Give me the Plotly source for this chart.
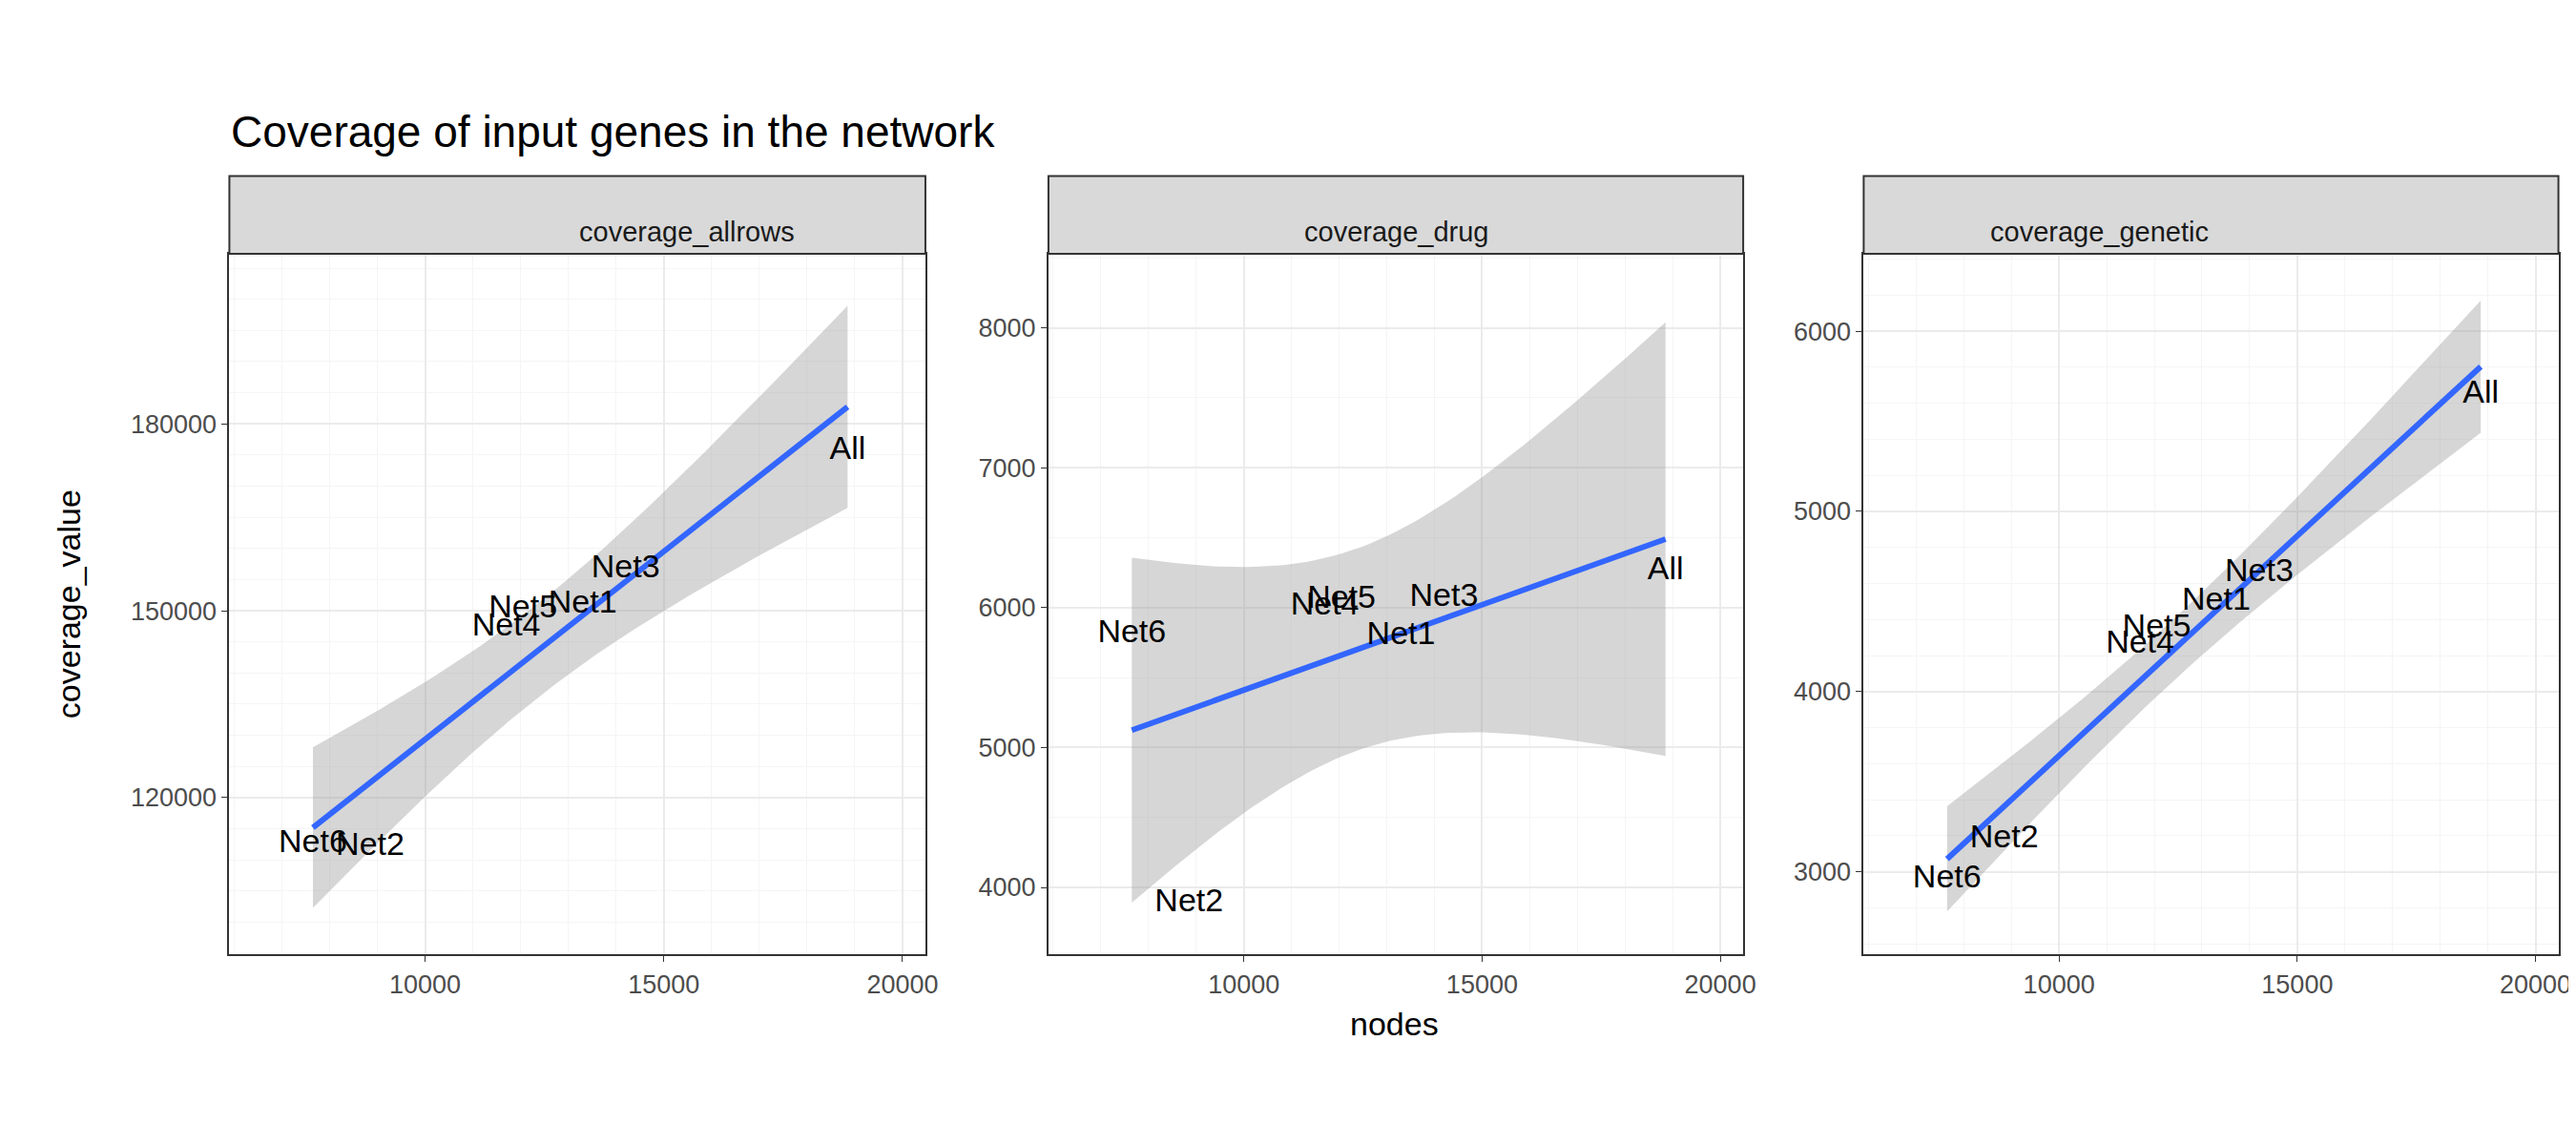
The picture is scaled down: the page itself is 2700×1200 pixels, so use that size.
import numpy as np
import plotly.graph_objects as go

networks = ["Net1", "Net2", "Net3", "Net4", "Net5", "Net6", "All"]
nodes = [13300, 8850, 14200, 11700, 12050, 7650, 18850]
coverage_allrows = [151000, 112100, 156600, 147300, 150300, 112600, 175700]
coverage_drug = [5800, 3890, 6070, 6010, 6060, 5810, 6260]
coverage_genetic = [4500, 3180, 4660, 4260, 4350, 2960, 5650]

facets = ["coverage_allrows", "coverage_drug", "coverage_genetic"]
values = [coverage_allrows, coverage_drug, coverage_genetic]
y_ranges = [[94800, 207300], [3520, 8530], [2540, 6430]]
y_ticks = [[120000, 150000, 180000], [4000, 5000, 6000, 7000, 8000], [3000, 4000, 5000, 6000]]
x_domains = [[0.0865, 0.358], [0.406, 0.677], [0.724, 0.995]]
y_domain = [0.173, 0.785]

fig = go.Figure()
x = np.array(nodes, float)
n = len(x)
xs = np.linspace(x.min(), x.max(), 80)
t = 2.5706  # t quantile 0.975, df=5

for i, (name, vals) in enumerate(zip(facets, values)):
    ax = "" if i == 0 else str(i + 1)
    y = np.array(vals, float)
    b, a = np.polyfit(x, y, 1)
    res = y - (a + b * x)
    s = np.sqrt((res ** 2).sum() / (n - 2))
    se = s * np.sqrt(1 / n + (xs - x.mean()) ** 2 / ((x - x.mean()) ** 2).sum())
    fit = a + b * xs
    fig.add_trace(go.Scatter(x=np.concatenate([xs, xs[::-1]]),
                             y=np.concatenate([fit + t * se, (fit - t * se)[::-1]]),
                             fill="toself", fillcolor="rgba(153,153,153,0.4)",
                             line=dict(width=0), hoverinfo="skip", showlegend=False,
                             xaxis="x" + ax, yaxis="y" + ax))
    fig.add_trace(go.Scatter(x=xs, y=fit, mode="lines", line=dict(color="#3366FF", width=6),
                             showlegend=False, xaxis="x" + ax, yaxis="y" + ax))
    fig.add_trace(go.Scatter(x=nodes, y=vals, mode="text", text=networks,
                             textfont=dict(size=34, color="black", family="Liberation Sans"),
                             showlegend=False, xaxis="x" + ax, yaxis="y" + ax))
    axis_common = dict(showline=True, linecolor="#333333", linewidth=2, mirror=True,
                       gridcolor="#EBEBEB", gridwidth=2, zeroline=False, ticks="outside",
                       tickcolor="#333333", ticklen=6, tickformat="d",
                       tickfont=dict(size=27, color="#4D4D4D"),
                       minor=dict(showgrid=True, gridcolor="#F5F5F5", gridwidth=1))
    fig.layout["xaxis" + ax] = dict(axis_common, domain=x_domains[i], anchor="y" + ax,
                                    range=[5900, 20480], tickvals=[10000, 15000, 20000])
    fig.layout["yaxis" + ax] = dict(axis_common, domain=y_domain, anchor="x" + ax,
                                    range=y_ranges[i], tickvals=y_ticks[i])
    fig.add_shape(type="rect", xref="paper", yref="paper", x0=x_domains[i][0], x1=x_domains[i][1],
                  y0=y_domain[1], y1=0.853, fillcolor="#D9D9D9",
                  line=dict(color="#333333", width=2))
    fig.add_annotation(text=name, xref="paper", yref="paper", showarrow=False,
                       x=sum(x_domains[i]) / 2, y=(y_domain[1] + 0.853) / 2,
                       font=dict(size=29, color="#1A1A1A"))

fig.add_annotation(text="Coverage of input genes in the network", xref="paper", yref="paper",
                   x=0.0865, y=0.892, xanchor="left", yanchor="middle", showarrow=False,
                   font=dict(size=46, color="black"))
fig.add_annotation(text="nodes", xref="paper", yref="paper", x=0.541, y=0.095,
                   showarrow=False, font=dict(size=34, color="black"))
fig.add_annotation(text="coverage_value", xref="paper", yref="paper", x=0.016, y=0.479,
                   textangle=-90, showarrow=False, font=dict(size=34, color="black"))

fig.update_layout(width=2700, height=1200, margin=dict(l=0, r=0, t=0, b=0),
                  plot_bgcolor="white", paper_bgcolor="white",
                  font=dict(family="Liberation Sans"))
fig.write_html("out.html")
